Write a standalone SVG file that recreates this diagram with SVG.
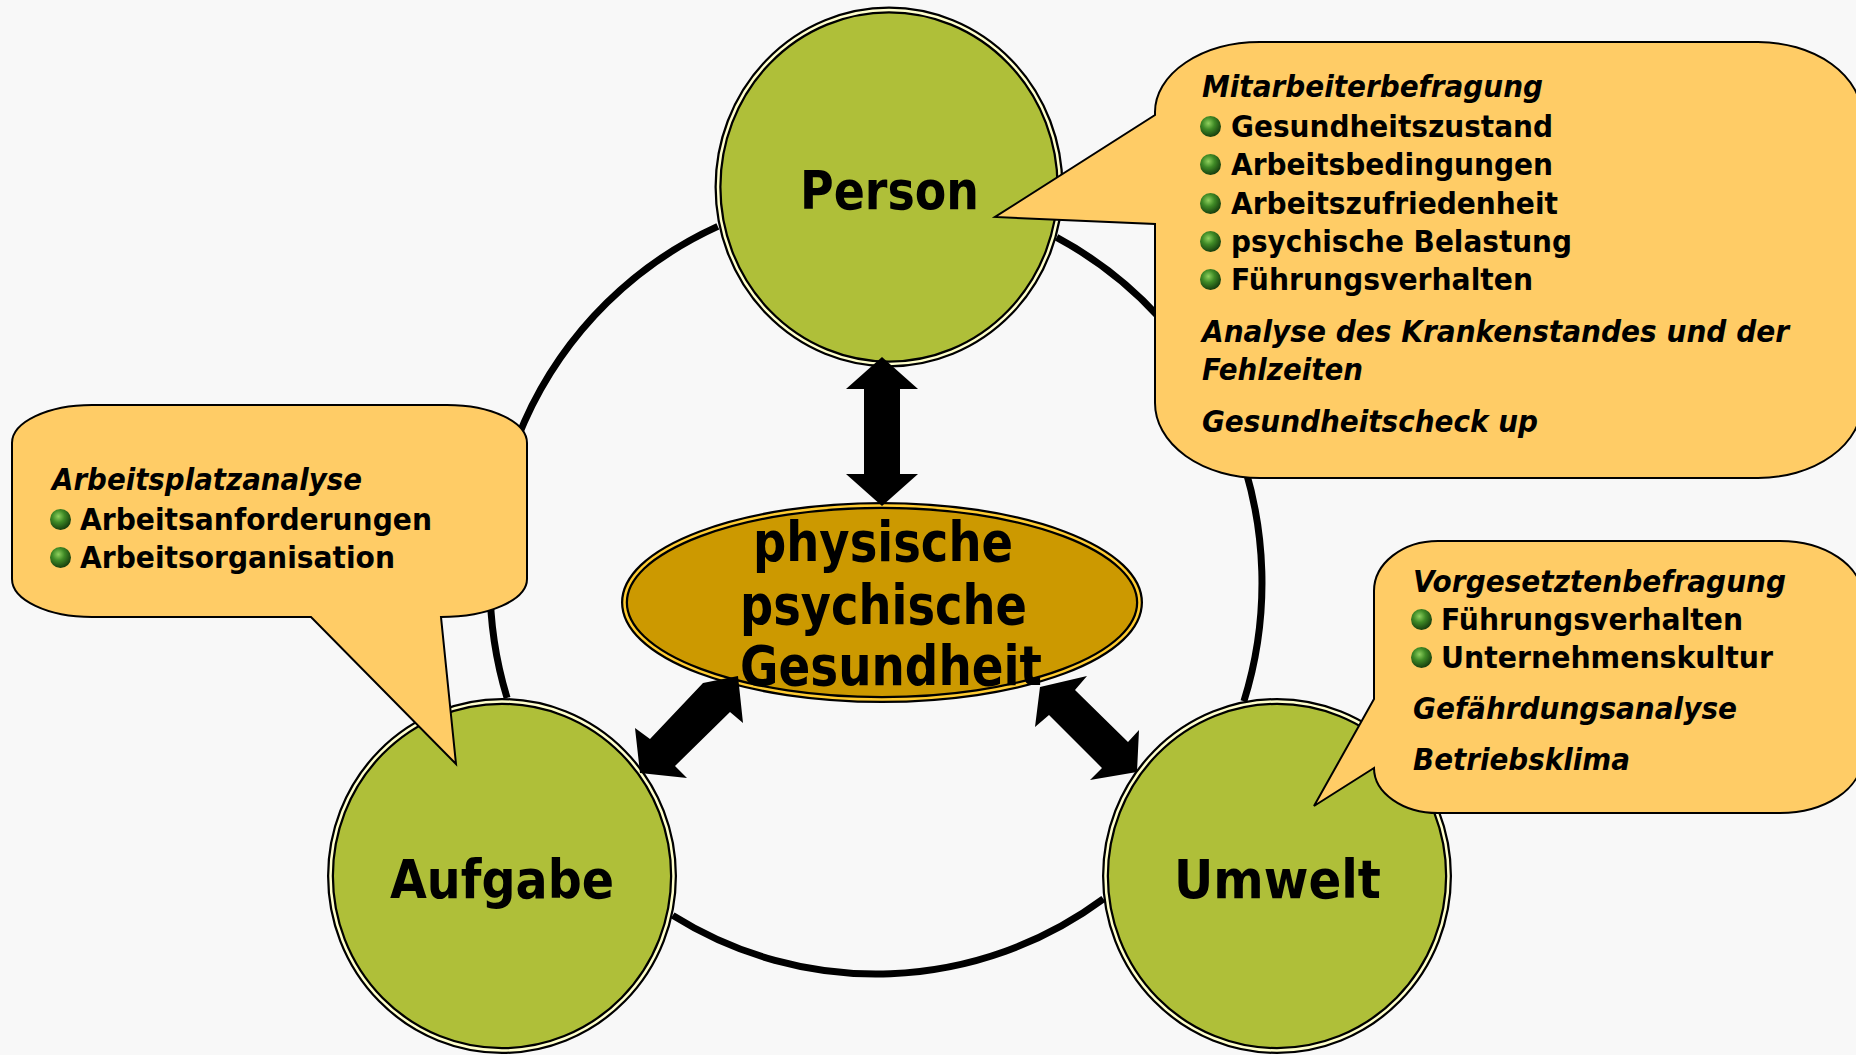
<svg xmlns="http://www.w3.org/2000/svg" width="1856" height="1055" viewBox="0 0 1856 1055">
<defs>
<radialGradient id="bul" cx="40%" cy="35%" r="65%">
<stop offset="0" stop-color="#8fd05e"/>
<stop offset="0.45" stop-color="#3f8a26"/>
<stop offset="1" stop-color="#173f0e"/>
</radialGradient>
<style>
.bg{fill:#f8f8f8}
.nodeo{fill:#afbf39;stroke:#000;stroke-width:7}
.nodei{fill:none;stroke:#ffffcc;stroke-width:2.5}
.ello{fill:#cc9900;stroke:#000;stroke-width:7}
.elli{fill:none;stroke:#ffcc33;stroke-width:2.5}
.ring{fill:none;stroke:#000;stroke-width:7}
.arrow{fill:#000}
.call{fill:#ffcc66;stroke:#000;stroke-width:2}
.lbl{font-family:"DejaVu Sans","Liberation Sans",sans-serif;font-weight:bold;fill:#000}
.big{font-size:53px}
.mid{font-size:55px}
.sm{font-size:31px}
.it{font-style:italic}
.bul{fill:url(#bul)}
</style>
</defs>
<rect class="bg" x="0" y="0" width="1856" height="1055"/>

<g id="node-person">
<ellipse class="nodeo" cx="889" cy="187" rx="171" ry="177"/>
<ellipse class="nodei" cx="889" cy="187" rx="171" ry="177"/>
<text class="lbl big" x="800" y="209" textLength="179" lengthAdjust="spacingAndGlyphs">Person</text>
</g>
<g id="node-aufgabe">
<ellipse class="nodeo" cx="502" cy="876" rx="171.5" ry="174.5"/>
<ellipse class="nodei" cx="502" cy="876" rx="171.5" ry="174.5"/>
<text class="lbl big" x="390" y="898" textLength="224" lengthAdjust="spacingAndGlyphs">Aufgabe</text>
</g>
<g id="node-umwelt">
<ellipse class="nodeo" cx="1277" cy="876" rx="171.5" ry="174.5"/>
<ellipse class="nodei" cx="1277" cy="876" rx="171.5" ry="174.5"/>
<text class="lbl big" x="1174" y="898" textLength="207" lengthAdjust="spacingAndGlyphs">Umwelt</text>
</g>
<g id="node-gesundheit">
<ellipse class="ello" cx="882" cy="602.5" rx="257.5" ry="97"/>
<ellipse class="elli" cx="882" cy="602.5" rx="257.5" ry="97"/>
<text class="lbl mid" x="753" y="561" textLength="260" lengthAdjust="spacingAndGlyphs">physische</text>
<text class="lbl mid" x="740" y="624" textLength="287" lengthAdjust="spacingAndGlyphs">psychische</text>
<text class="lbl mid" x="740" y="685" textLength="302" lengthAdjust="spacingAndGlyphs">Gesundheit</text>
</g>

<g id="connectors">
<path class="ring" d="M 717.8 226.4 A 386 391 0 0 0 507.1 698"/>
<path class="ring" d="M 672.7 915.4 A 386 391 0 0 0 1103.4 898.9"/>
<path class="ring" d="M 1243.9 701.2 A 386 391 0 0 0 1056.6 237.4"/>
<polygon class="arrow" points="882,357 918,389 900,389 900,474 918,474 882,506 846,474 864,474 864,389 846,389"/>
<polygon class="arrow" points="635,728 650,739 703,683 738,676 743,723 730,712 675,766 687,778 640,773"/>
<polygon class="arrow" points="1035,727 1040,687 1087,676 1075,690 1128,742 1139,730 1137,772 1090,780 1102,768 1049,715"/>
</g>

<g id="callout-person">
<path class="call" d="M 1260 42 H 1758 A 104 75 0 0 1 1862 117 V 403 A 104 75 0 0 1 1758 478 H 1260 A 105 75 0 0 1 1155 403 V 224 L 995 217 L 1155 115 V 112 A 105 70 0 0 1 1260 42 Z"/>
<text class="lbl sm it" x="1202" y="97" textLength="341" lengthAdjust="spacingAndGlyphs">Mitarbeiterbefragung</text>
<circle class="bul" cx="1210.5" cy="126.5" r="10.5"/>
<text class="lbl sm" x="1231" y="137" textLength="322" lengthAdjust="spacingAndGlyphs">Gesundheitszustand</text>
<circle class="bul" cx="1210.5" cy="164.5" r="10.5"/>
<text class="lbl sm" x="1231" y="175" textLength="322" lengthAdjust="spacingAndGlyphs">Arbeitsbedingungen</text>
<circle class="bul" cx="1210.5" cy="203.5" r="10.5"/>
<text class="lbl sm" x="1231" y="214" textLength="327" lengthAdjust="spacingAndGlyphs">Arbeitszufriedenheit</text>
<circle class="bul" cx="1210.5" cy="241.5" r="10.5"/>
<text class="lbl sm" x="1231" y="252" textLength="341" lengthAdjust="spacingAndGlyphs">psychische Belastung</text>
<circle class="bul" cx="1210.5" cy="279.5" r="10.5"/>
<text class="lbl sm" x="1231" y="290" textLength="302" lengthAdjust="spacingAndGlyphs">Führungsverhalten</text>
<text class="lbl sm it" x="1202" y="342" textLength="587" lengthAdjust="spacingAndGlyphs">Analyse des Krankenstandes und der</text>
<text class="lbl sm it" x="1202" y="380" textLength="161" lengthAdjust="spacingAndGlyphs">Fehlzeiten</text>
<text class="lbl sm it" x="1202" y="432" textLength="336" lengthAdjust="spacingAndGlyphs">Gesundheitscheck up</text>
</g>

<g id="callout-aufgabe">
<path class="call" d="M 92 405 H 447 A 80 38 0 0 1 527 443 V 579 A 86 38 0 0 1 441 617 L 456 764 L 311 617 H 92 A 80 38 0 0 1 12 579 V 443 A 80 38 0 0 1 92 405 Z"/>
<text class="lbl sm it" x="52" y="490" textLength="310" lengthAdjust="spacingAndGlyphs">Arbeitsplatzanalyse</text>
<circle class="bul" cx="60.5" cy="519.5" r="10.5"/>
<text class="lbl sm" x="80" y="530" textLength="352" lengthAdjust="spacingAndGlyphs">Arbeitsanforderungen</text>
<circle class="bul" cx="60.5" cy="557.5" r="10.5"/>
<text class="lbl sm" x="80" y="568" textLength="315" lengthAdjust="spacingAndGlyphs">Arbeitsorganisation</text>
</g>

<g id="callout-umwelt">
<path class="call" d="M 1438 541 H 1780 A 82 55 0 0 1 1862 596 V 758 A 82 55 0 0 1 1780 813 H 1438 A 64 45 0 0 1 1374 768 L 1314 806 L 1374 699 V 591 A 64 50 0 0 1 1438 541 Z"/>
<text class="lbl sm it" x="1413" y="592" textLength="373" lengthAdjust="spacingAndGlyphs">Vorgesetztenbefragung</text>
<circle class="bul" cx="1421.5" cy="619.5" r="10.5"/>
<text class="lbl sm" x="1441" y="630" textLength="302" lengthAdjust="spacingAndGlyphs">Führungsverhalten</text>
<circle class="bul" cx="1421.5" cy="657.5" r="10.5"/>
<text class="lbl sm" x="1441" y="668" textLength="332" lengthAdjust="spacingAndGlyphs">Unternehmenskultur</text>
<text class="lbl sm it" x="1413" y="719" textLength="324" lengthAdjust="spacingAndGlyphs">Gefährdungsanalyse</text>
<text class="lbl sm it" x="1413" y="770" textLength="217" lengthAdjust="spacingAndGlyphs">Betriebsklima</text>
</g>
</svg>
